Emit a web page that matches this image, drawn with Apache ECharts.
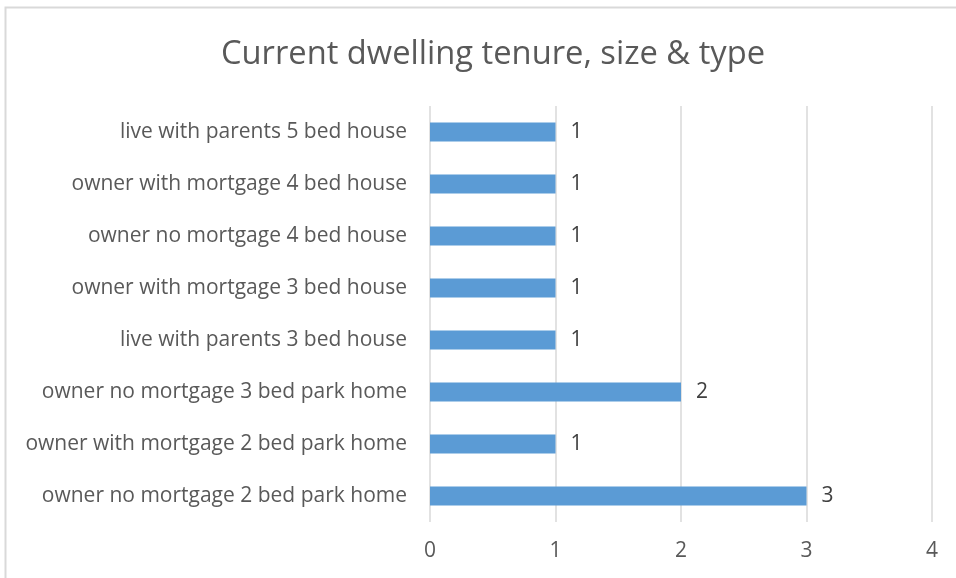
<!DOCTYPE html>
<html>
<head>
<meta charset="utf-8">
<script src="https://cdn.jsdelivr.net/npm/echarts@6/dist/echarts.min.js"></script>
<style>
  html, body { margin: 0; padding: 0; background: #fff; }
  #main { width: 956px; height: 578px; }
</style>
</head>
<body>
<div id="main"></div>
<script>
// categories listed bottom to top, as the y axis draws them
var categories = [
  'owner no mortgage 2 bed park home',
  'owner with mortgage 2 bed park home',
  'owner no mortgage 3 bed park home',
  'live with parents 3 bed house',
  'owner with mortgage 3 bed house',
  'owner no mortgage 4 bed house',
  'owner with mortgage 4 bed house',
  'live with parents 5 bed house'
];
var counts = [3, 1, 2, 1, 1, 1, 1, 1];
var xTicks = [0, 1, 2, 3, 4];

var myChart = echarts.init(document.getElementById('main'));

var option = {
  backgroundColor: '#fff',
  animation: false,
  title: {
    text: 'Current dwelling tenure, size & type',
    left: 488,
    top: 33,
    textAlign: 'center',
    textStyle: {
      fontFamily: 'Open Sans',
      fontSize: 32.7,
      fontWeight: 'normal',
      color: '#595959'
    }
  },
  graphic: [{
    type: 'rect',
    shape: { x: 5.5, y: 7.5, width: 1000, height: 1000 },
    style: { fill: 'none', stroke: '#d9d9d9', lineWidth: 2 },
    silent: true
  }],
  grid: {
    left: 430,
    right: 24,
    top: 106,
    bottom: 56
  },
  xAxis: {
    type: 'value',
    min: xTicks[0],
    max: xTicks[xTicks.length - 1],
    interval: 1,
    axisLine: { show: false },
    axisTick: { show: false },
    splitLine: { lineStyle: { color: '#d9d9d9', width: 1.5 } },
    axisLabel: {
      margin: 19,
      fontFamily: 'Open Sans',
      fontSize: 21,
      color: '#595959'
    }
  },
  yAxis: {
    type: 'category',
    data: categories,
    axisLine: { show: false },
    axisTick: { show: false },
    axisLabel: {
      margin: 23,
      fontFamily: 'Open Sans',
      fontSize: 21,
      color: '#595959'
    }
  },
  series: [{
    type: 'bar',
    data: counts,
    barWidth: 19,
    itemStyle: { color: '#5b9bd5' },
    label: {
      show: true,
      position: 'right',
      distance: 15,
      fontFamily: 'Open Sans',
      fontSize: 21,
      color: '#404040'
    }
  }]
};

option && myChart.setOption(option);
</script>
</body>
</html>
